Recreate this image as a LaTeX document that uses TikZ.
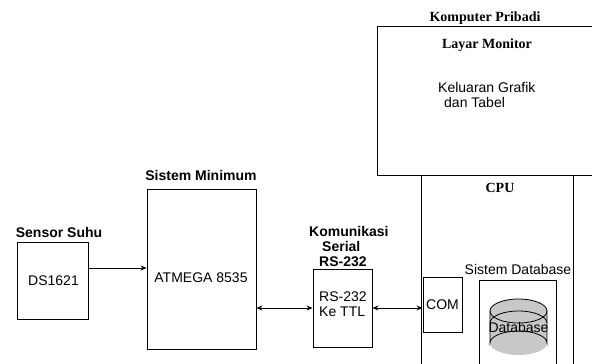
\documentclass[tikz,border=0pt]{standalone}
\usepackage{fontspec}
\setmainfont{Liberation Serif}
\setsansfont{Liberation Sans}
\usetikzlibrary{arrows.meta}

\definecolor{abudb}{RGB}{200,200,200}
\tikzset{
	blok/.style={draw, line width=0.9pt, inner sep=0pt},
	teks/.style={font=\sffamily\fontsize{14}{15}\selectfont, inner sep=0pt},
	judul/.style={font=\sffamily\bfseries\fontsize{14}{15}\selectfont, inner sep=0pt},
	judulserif/.style={font=\rmfamily\bfseries\fontsize{14}{15}\selectfont, inner sep=0pt},
	panah/.style={line width=0.9pt, -{Stealth[length=6pt,width=5pt]}},
	duapanah/.style={line width=0.9pt, {Stealth[length=6pt,width=5pt]}-{Stealth[length=6pt,width=5pt]}}
}

\begin{document}
\begin{tikzpicture}[x=1pt,y=-1pt]
		\useasboundingbox (0,0) rectangle (592,364);
		\clip (0,0) rectangle (592,364);
		% komputer
		\node[blok, minimum width=219pt, minimum height=149pt] (monitor) at (486.5,100.5) {};
		\node[blok, minimum width=152pt, minimum height=195pt] (cpu) at (497,272.5) {};
		\node[judulserif] (pribadi) at (485,18) {Komputer Pribadi};
		\node[judulserif] (layar) at (487,45) {Layar Monitor};
		\node[teks, align=left, anchor=north west] (grafik) at (438,82) {Keluaran Grafik\\\hspace*{6pt}dan Tabel};
		\node[judulserif] (cputeks) at (500,188) {CPU};
		\node[blok, minimum width=39pt, minimum height=55pt] (com) at (442.5,304.5) {};
		\node[teks] (comteks) at (442.5,305) {COM};
		\node[blok, minimum width=77pt, minimum height=90pt] (dbbox) at (517.5,325) {};
		\node[teks] (sisdb) at (518,269) {Sistem Database};
		% silinder database
		\fill[abudb] (490,311) rectangle (547,343);
		\fill[abudb] (518.5,343) ellipse [x radius=28.5, y radius=12];
		\fill[abudb] (518.5,311) ellipse [x radius=28.5, y radius=12];
		\draw[line width=0.8pt] (490,311) -- (490,343) arc[start angle=180, end angle=360, x radius=28.5, y radius=12] -- (547,311);
		\draw[line width=0.8pt] (518.5,311) ellipse [x radius=28.5, y radius=12];
		\draw[line width=0.8pt] (490,323) arc[start angle=180, end angle=360, x radius=28.5, y radius=12];
		\node[teks] (dbteks) at (518.5,327) {Database};
		% sensor dan sistem minimum
		\node[blok, minimum width=71pt, minimum height=77pt] (sensor) at (52.5,280.5) {};
		\node[judul] (suhu) at (59,232) {Sensor Suhu};
		\node[teks] (ds) at (53.5,281) {DS1621};
		\node[blok, minimum width=109pt, minimum height=160pt] (atmega) at (201.5,269) {};
		\node[judul] (minimum) at (201,175) {Sistem Minimum};
		\node[teks] (atm) at (201,278) {ATMEGA 8535};
		% komunikasi serial
		\node[blok, minimum width=59pt, minimum height=78pt] (rs) at (342.5,308) {};
		\node[judul, align=left, anchor=north west] (serial) at (309,226) {Komunikasi\\\hspace*{13pt}Serial\\\hspace*{10pt}RS-232};
		\node[teks, align=left, anchor=north west] (ttl) at (319,292) {RS-232\\Ke TTL};
		% panah
		\draw[panah] (sensor.east |- 0,268) -- (atmega.west |- 0,268);
		\draw[duapanah] (atmega.east |- rs) -- (rs.west);
		\draw[duapanah] (rs.east) -- (com.west |- rs);
\end{tikzpicture}
\end{document}
